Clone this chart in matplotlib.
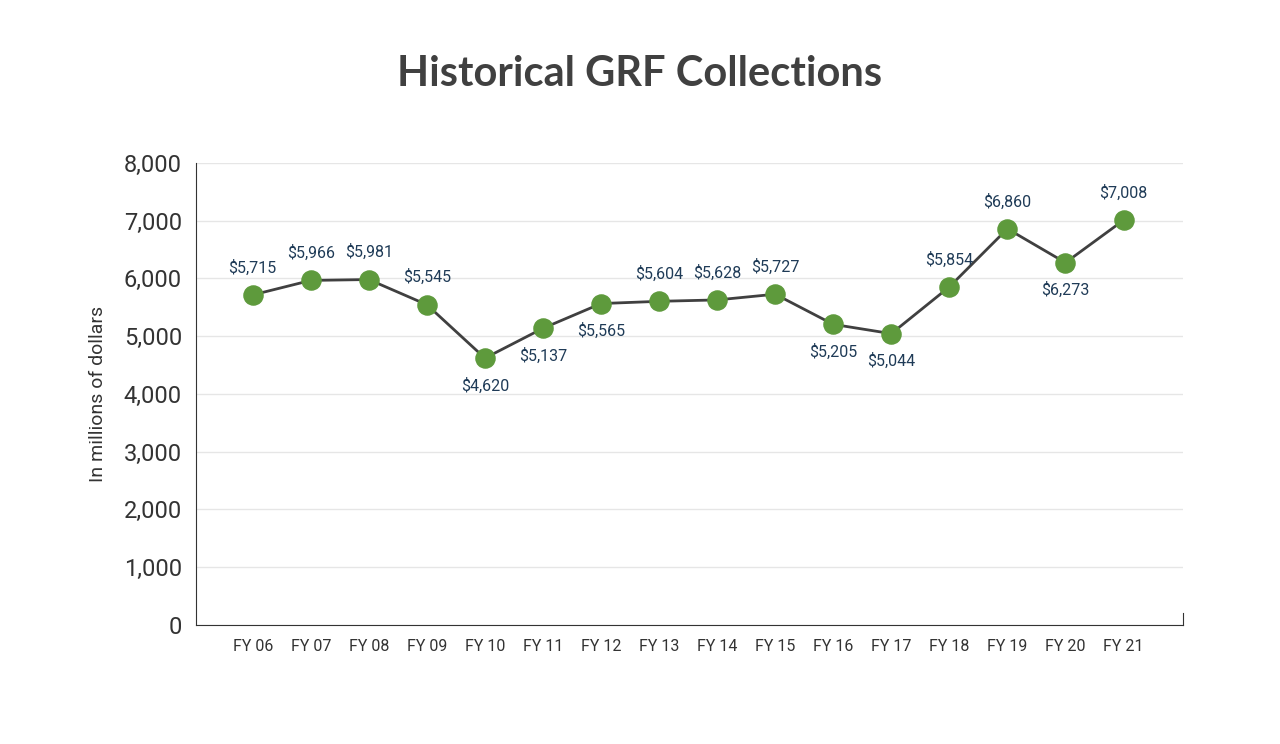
import matplotlib
matplotlib.use("Agg")
import matplotlib.pyplot as plt

years = ["FY 06","FY 07","FY 08","FY 09","FY 10","FY 11","FY 12","FY 13","FY 14","FY 15","FY 16","FY 17","FY 18","FY 19","FY 20","FY 21"]
values = [5715,5966,5981,5545,4620,5137,5565,5604,5628,5727,5205,5044,5854,6860,6273,7008]
below = [False,False,False,False,True,True,True,False,False,False,True,True,False,False,True,False]
yticks = [0,1000,2000,3000,4000,5000,6000,7000,8000]

narrow = ['Roboto','DejaVu Sans']
fig = plt.figure(figsize=(12.8,7.44), dpi=100)
ax = fig.add_axes([0.153,0.160,0.771,0.621])
x = list(range(len(years)))
ax.plot(x, values, color='#404040', lw=2, zorder=2)
ax.scatter(x, values, s=190, color='#5e9a3c', zorder=3)
for xi, v, b in zip(x, values, below):
    ax.annotate(f"${v:,}", (xi, v), xytext=(0, -14 if b else 14), textcoords='offset points',
                ha='center', va='top' if b else 'bottom', color='#1f3b57', fontsize=11.5,
                family=narrow, fontstretch='condensed')
ax.set_xlim(-0.98, 16.02)
ax.set_ylim(0, 8000)
ax.set_yticks(yticks)
ax.set_yticklabels([f"{t:,}" for t in yticks], fontsize=17, family=narrow, color='#333333')
ax.set_xticks(x)
ax.set_xticklabels(years, fontsize=11.5, family=narrow, color='#333333')
ax.tick_params(axis='both', length=0, pad=10)
ax.grid(axis='y', color='#e6e6e6', lw=1)
ax.set_axisbelow(True)
ax.spines['top'].set_visible(False)
ax.spines['right'].set_bounds(0, 200)
for s in ['left','bottom','right']:
    ax.spines[s].set_color('#333333')
ax.set_ylabel("In millions of dollars", fontsize=14, family=narrow, color='#333333', labelpad=12)
fig.text(0.5, 0.9, "Historical GRF Collections", ha='center', va='center', fontsize=30,
         fontweight='bold', family=['Lato','DejaVu Sans'], color='#404040')
fig.savefig("out.png", dpi=100, facecolor='white')
